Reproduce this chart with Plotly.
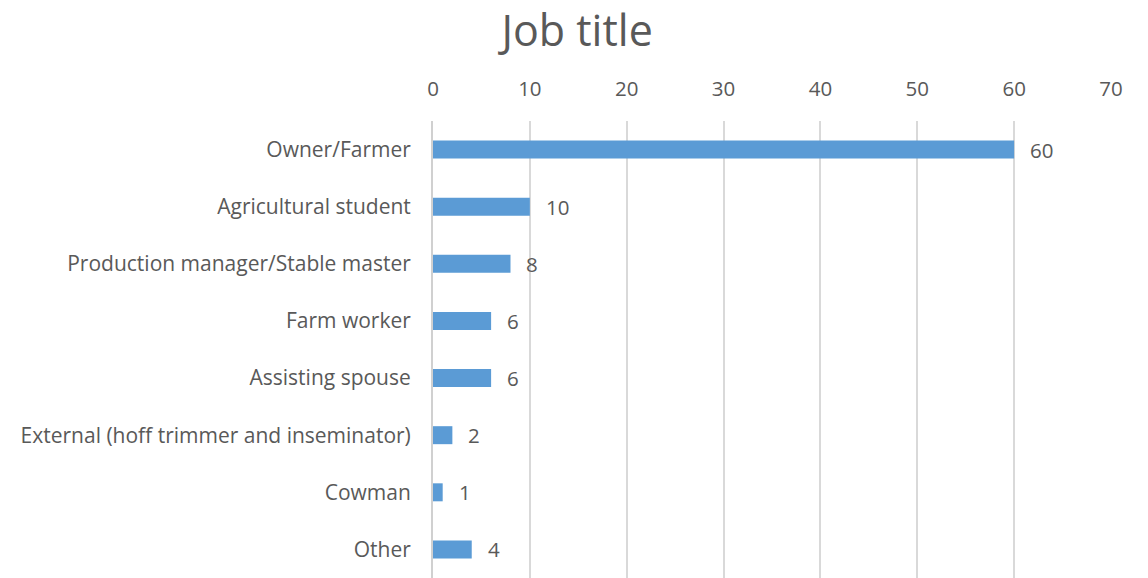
import plotly.graph_objects as go

categories = [
    "Owner/Farmer",
    "Agricultural student",
    "Production manager/Stable master",
    "Farm worker",
    "Assisting spouse",
    "External (hoff trimmer and inseminator)",
    "Cowman",
    "Other",
]
counts = [60, 10, 8, 6, 6, 2, 1, 4]
x_ticks = [0, 10, 20, 30, 40, 50, 60, 70]

text_color = "#595959"
font_family = "Open Sans, Noto Sans, sans-serif"

fig = go.Figure(
    go.Bar(
        x=counts,
        y=categories,
        orientation="h",
        marker=dict(color="#5b9bd5", line=dict(width=0)),
        hoverinfo="x+y",
    )
)

# value labels to the right of each bar
for cat, val in zip(categories, counts):
    fig.add_annotation(
        x=val, y=cat, text=str(val), showarrow=False,
        xanchor="left", xshift=14,
        font=dict(size=20.5, color=text_color, family=font_family),
    )

fig.update_layout(
    width=1148,
    height=578,
    margin=dict(l=433, r=37, t=121, b=0),
    paper_bgcolor="white",
    plot_bgcolor="white",
    bargap=0.685,
    showlegend=False,
    title=dict(
        text="Job title",
        x=0.5027, xanchor="center",
        y=0.946, yanchor="middle",
        font=dict(size=43, color=text_color, family=font_family),
    ),
    font=dict(family=font_family, color=text_color),
)

fig.update_xaxes(
    side="top",
    range=[0, 70],
    tickvals=x_ticks,
    showgrid=True,
    gridcolor="#d9d9d9",
    gridwidth=2,
    zeroline=False,
    showline=False,
    ticks="",
    ticklabelstandoff=20,
    tickfont=dict(size=20.5, color=text_color),
)

fig.update_yaxes(
    autorange="reversed",
    showgrid=False,
    showline=True,
    linecolor="#d0d0d0",
    linewidth=2,
    ticks="",
    ticklabelstandoff=16,
    tickfont=dict(size=21, color=text_color),
)

fig.write_html("out.html")
